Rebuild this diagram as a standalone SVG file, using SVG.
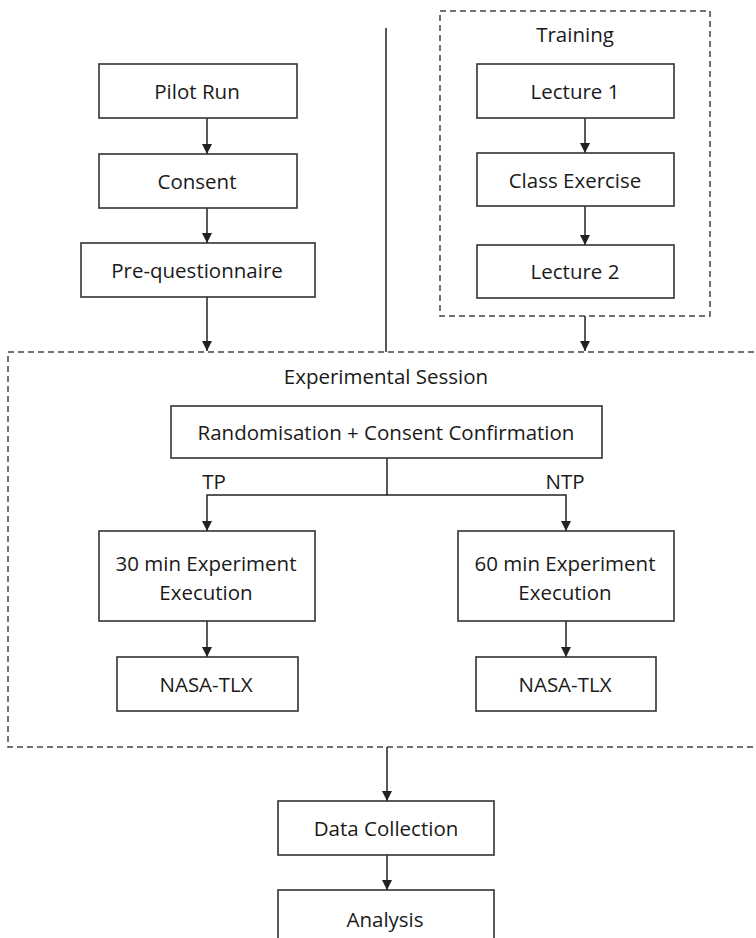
<svg xmlns="http://www.w3.org/2000/svg" width="756" height="938" viewBox="0 0 756 938">
<defs>
<marker id="ah" viewBox="0 0 10 10" refX="10" refY="5" markerWidth="10" markerHeight="10" markerUnits="userSpaceOnUse" orient="auto">
<path d="M0,0 L10,5 L0,10 z" fill="#222"/>
</marker>
</defs>
<style>
.box{fill:#fff;stroke:#333;stroke-width:1.6}
.grp{fill:none;stroke:#444;stroke-width:1.5;stroke-dasharray:6 4}
.t{font-family:"Open Sans","Noto Sans",sans-serif;font-size:20.5px;fill:#1a1a1a;text-anchor:middle;dominant-baseline:central}
.c{fill:none;stroke:#222;stroke-width:1.5}
.a{fill:none;stroke:#222;stroke-width:1.5;marker-end:url(#ah)}
</style>
<rect width="756" height="938" fill="#fff"/>
<g id="training">
<rect class="grp" x="440" y="11" width="270" height="305"/>
<text class="t" x="575" y="34">Training</text>
</g>
<g id="session">
<rect class="grp" x="8" y="352" width="760" height="395"/>
<text class="t" x="386" y="376">Experimental Session</text>
</g>
<g id="connectors">
<line class="c" x1="386" y1="28" x2="386" y2="352"/>
<line class="a" x1="207" y1="118" x2="207" y2="154"/>
<line class="a" x1="207" y1="208" x2="207" y2="243"/>
<line class="a" x1="207" y1="297" x2="207" y2="351"/>
<line class="a" x1="585" y1="118" x2="585" y2="153"/>
<line class="a" x1="585" y1="206" x2="585" y2="245"/>
<line class="a" x1="585" y1="316" x2="585" y2="351"/>
<polyline class="c" points="387,458 387,495"/>
<polyline class="a" points="387,495 207,495 207,531"/>
<polyline class="a" points="387,495 566,495 566,531"/>
<line class="a" x1="207" y1="621" x2="207" y2="657"/>
<line class="a" x1="566" y1="621" x2="566" y2="657"/>
<line class="a" x1="387" y1="747" x2="387" y2="801"/>
<line class="a" x1="387" y1="855" x2="387" y2="890"/>
<text class="t" x="214" y="481">TP</text>
<text class="t" x="565" y="481">NTP</text>
</g>
<g id="pilot"><rect class="box" x="99" y="64" width="198" height="54"/><text class="t" x="197" y="91">Pilot Run</text></g>
<g id="consent"><rect class="box" x="99" y="154" width="198" height="54"/><text class="t" x="197" y="181">Consent</text></g>
<g id="preq"><rect class="box" x="81" y="243" width="234" height="54"/><text class="t" x="197" y="270">Pre-questionnaire</text></g>
<g id="lecture1"><rect class="box" x="477" y="64" width="197" height="54"/><text class="t" x="575" y="91">Lecture 1</text></g>
<g id="exercise"><rect class="box" x="477" y="153" width="197" height="53"/><text class="t" x="575" y="180">Class Exercise</text></g>
<g id="lecture2"><rect class="box" x="477" y="245" width="197" height="53"/><text class="t" x="575" y="271">Lecture 2</text></g>
<g id="random"><rect class="box" x="171" y="406" width="431" height="52"/><text class="t" x="386" y="432">Randomisation + Consent Confirmation</text></g>
<g id="exp30"><rect class="box" x="99" y="531" width="216" height="90"/><text class="t" x="206" y="563">30 min Experiment</text><text class="t" x="206" y="592">Execution</text></g>
<g id="exp60"><rect class="box" x="458" y="531" width="216" height="90"/><text class="t" x="565" y="563">60 min Experiment</text><text class="t" x="565" y="592">Execution</text></g>
<g id="tlx1"><rect class="box" x="117" y="657" width="181" height="54"/><text class="t" x="206" y="684">NASA-TLX</text></g>
<g id="tlx2"><rect class="box" x="476" y="657" width="180" height="54"/><text class="t" x="565" y="684">NASA-TLX</text></g>
<g id="data"><rect class="box" x="278" y="801" width="216" height="54"/><text class="t" x="386" y="828">Data Collection</text></g>
<g id="analysis"><rect class="box" x="278" y="890" width="216" height="60"/><text class="t" x="385" y="919">Analysis</text></g>
</svg>
